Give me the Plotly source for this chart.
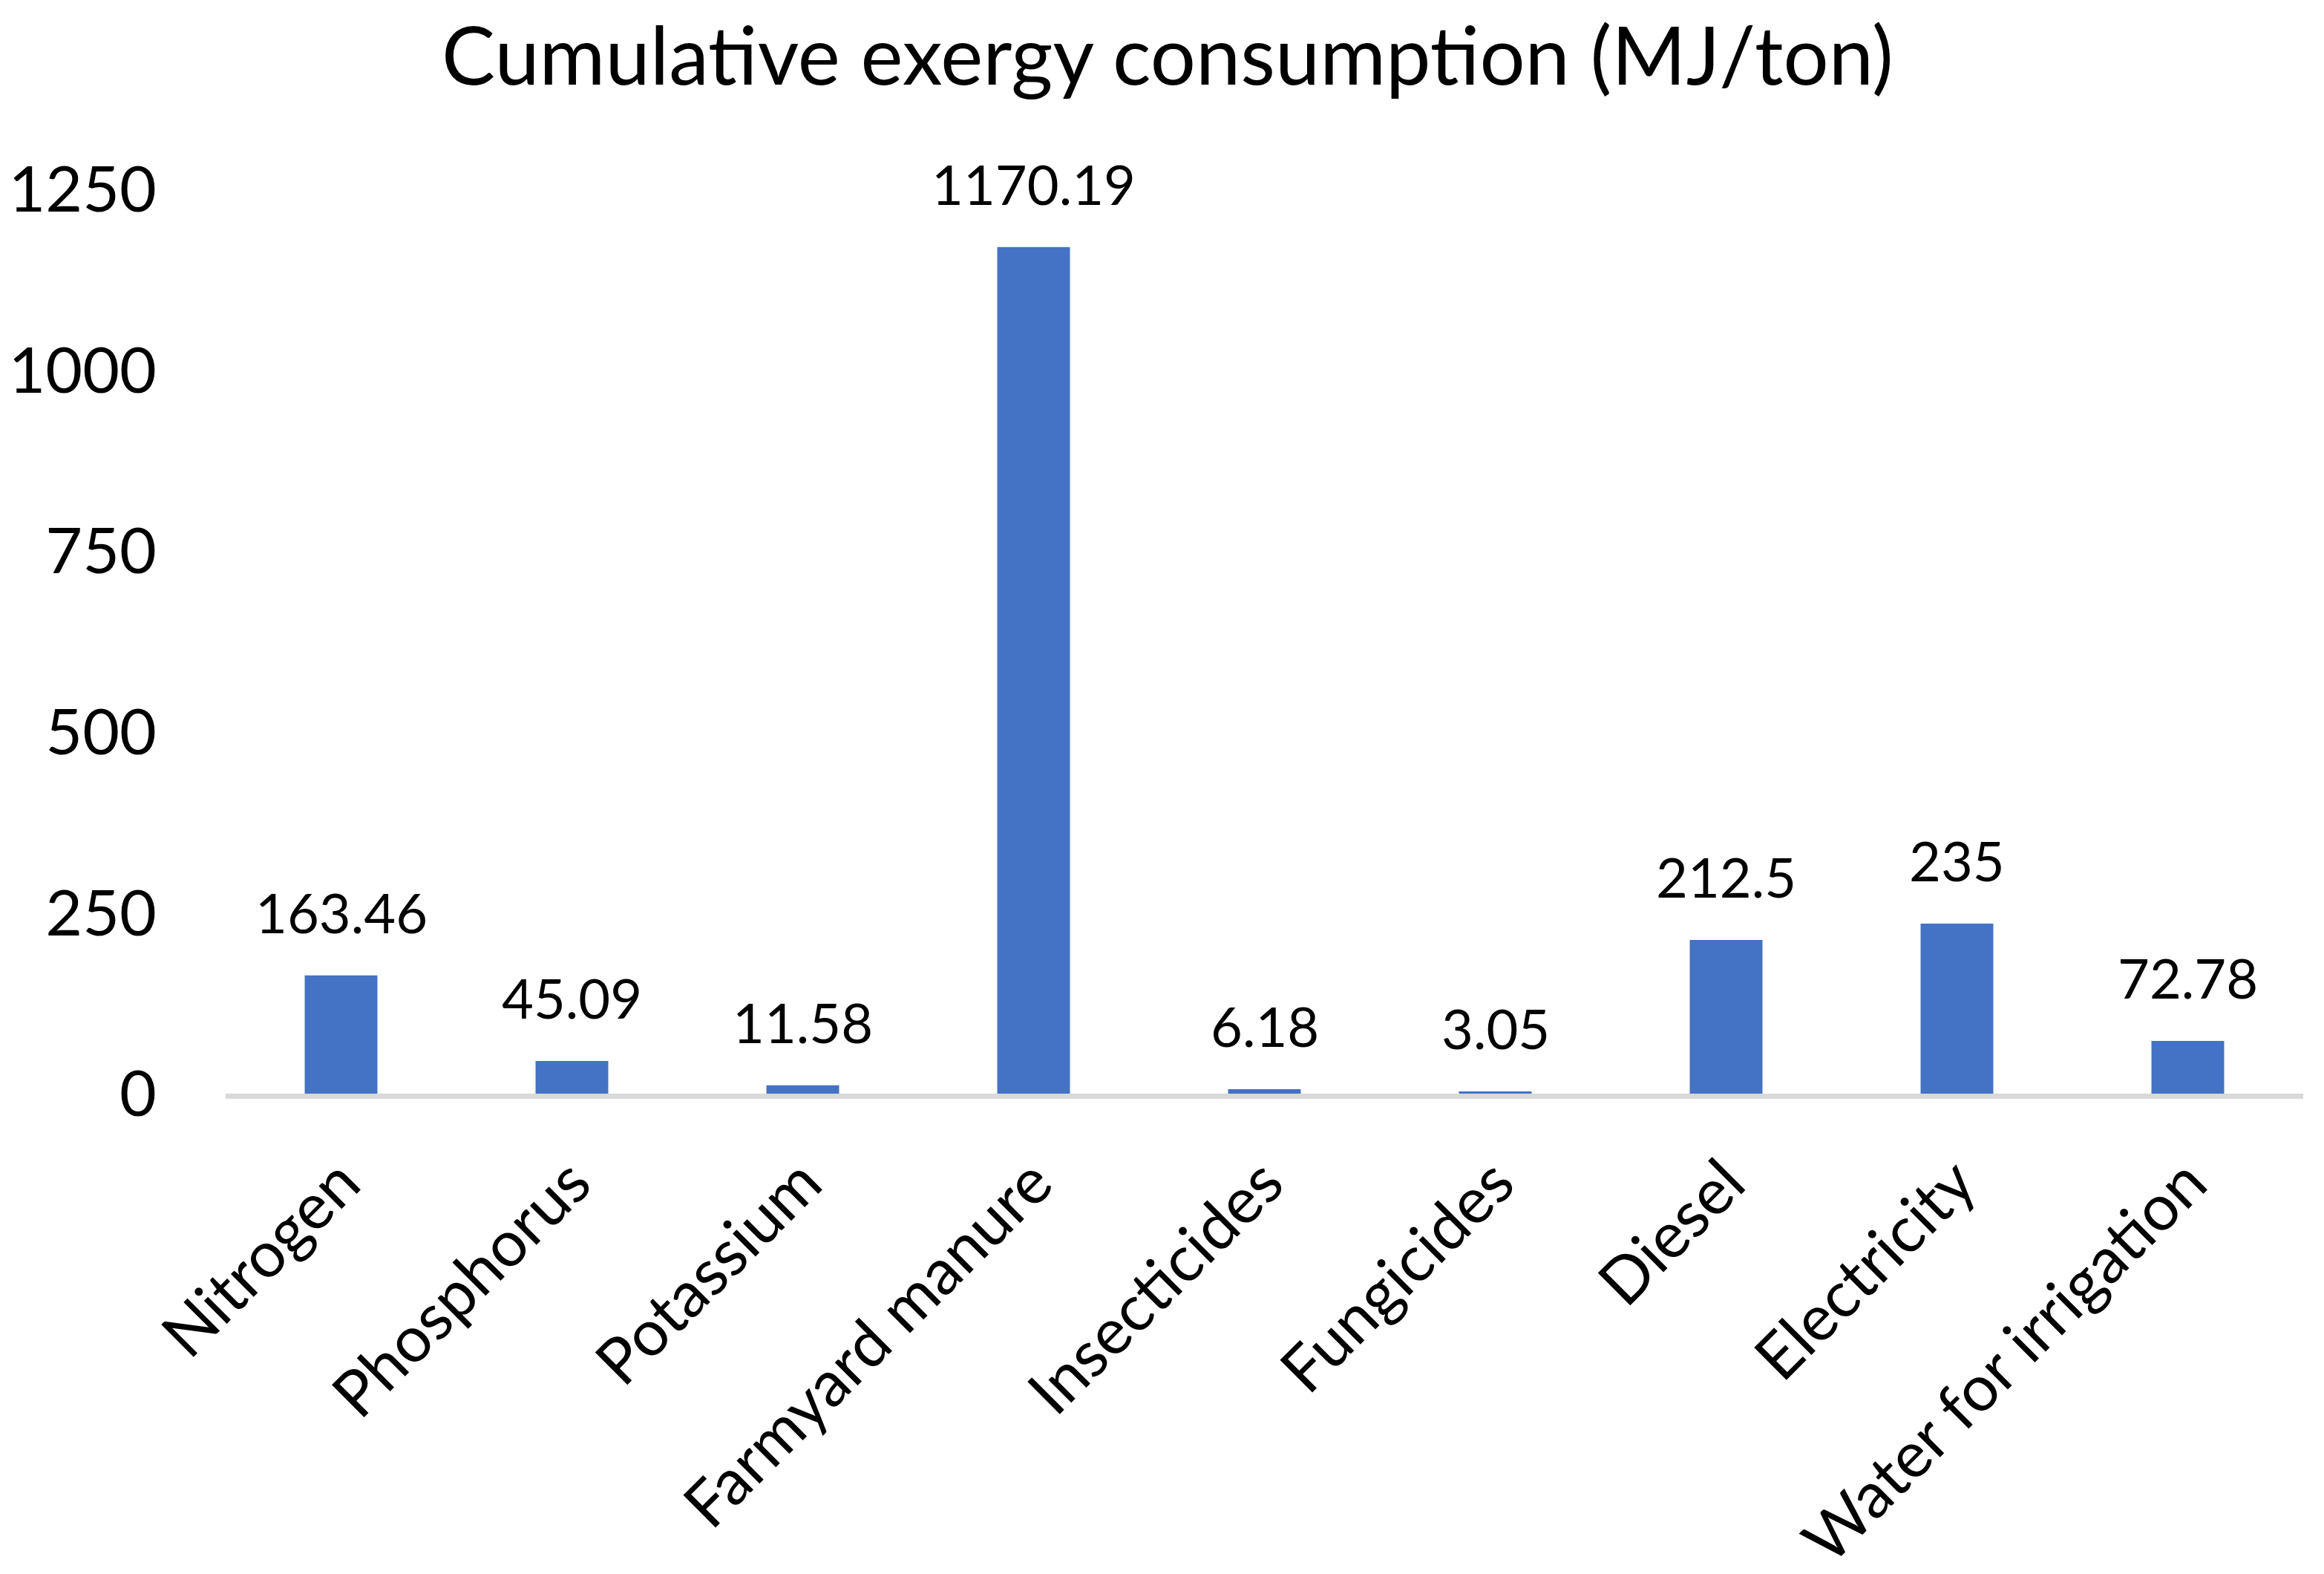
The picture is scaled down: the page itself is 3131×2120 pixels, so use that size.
import plotly.graph_objects as go

# 各投入項目的累積㶲消耗量（MJ/ton）
categories = [
    "Nitrogen",
    "Phosphorus",
    "Potassium",
    "Farmyard manure",
    "Insecticides",
    "Fungicides",
    "Diesel",
    "Electricity",
    "Water for irrigation",
]
exergy_values = [163.46, 45.09, 11.58, 1170.19, 6.18, 3.05, 212.5, 235, 72.78]
y_ticks = [0, 250, 500, 750, 1000, 1250]

FONT = "Lato"
BAR_COLOR = "#4472C4"

# 頁面 body 預設有 8px 邊距，圖面尺寸扣掉兩側邊距
FIG_W = 3115
FIG_H = 2104

fig = go.Figure()
fig.add_trace(
    go.Bar(
        x=categories,
        y=exergy_values,
        marker_color=BAR_COLOR,
        marker_line_width=0,
        hoverinfo="x+y",
    )
)

# 數值標籤放在長條上方，模仿 Excel 的「外側端點」
for cat, val in zip(categories, exergy_values):
    fig.add_annotation(
        x=cat,
        y=val,
        text=f"{val:g}",
        showarrow=False,
        yanchor="bottom",
        yshift=39,
        font={"family": FONT, "size": 74, "color": "#000000"},
    )

fig.update_layout(
    width=FIG_W,
    height=FIG_H,
    paper_bgcolor="white",
    plot_bgcolor="white",
    margin={"l": 296, "r": 20, "t": 247, "b": 639, "autoexpand": False},
    bargap=0.685,
    showlegend=False,
    title={
        "text": "Cumulative exergy consumption (MJ/ton)",
        "x": 1565 / FIG_W,
        "xref": "container",
        "xanchor": "center",
        "y": 1 - 68 / FIG_H,
        "yref": "container",
        "yanchor": "middle",
        "font": {"family": FONT, "size": 108, "color": "#000000"},
    },
    xaxis={
        "showline": True,
        "linecolor": "#D9D9D9",
        "linewidth": 7,
        "showgrid": False,
        "ticks": "",
        "tickangle": -45,
        "ticklabelstandoff": 28,
        "tickfont": {"family": FONT, "size": 86, "color": "#000000"},
    },
    yaxis={
        "range": [0, 1250],
        "tickvals": y_ticks,
        "showline": False,
        "showgrid": False,
        "zeroline": False,
        "ticks": "",
        "ticklabelstandoff": 92,
        "tickfont": {"family": FONT, "size": 86, "color": "#000000"},
    },
)

fig.write_html("out.html")
